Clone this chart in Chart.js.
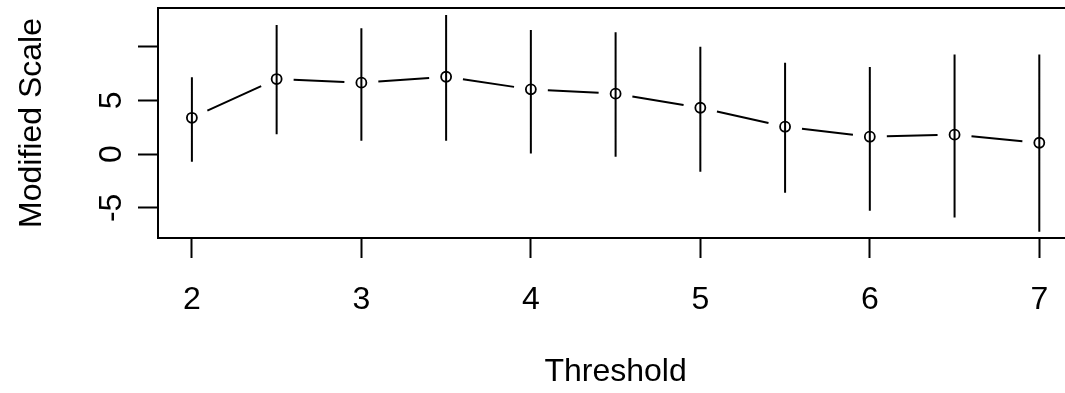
<!DOCTYPE html>
<html>
<head>
<meta charset="utf-8">
<script src="https://cdn.jsdelivr.net/npm/chart.js@4.4.1/dist/chart.umd.min.js"></script>
<style>
    body { margin: 0; background: #fff; overflow: hidden; }
    #wrap { width: 1065px; height: 393px; overflow: hidden; }
</style>
</head>
<body>
<div id="wrap"><canvas id="chart01" width="1080" height="393"></canvas></div>
<script>
// valores
const thresholds = [2, 2.5, 3, 3.5, 4, 4.5, 5, 5.5, 6, 6.5, 7];
const scaleMeans = [3.37, 6.97, 6.63, 7.18, 6.01, 5.61, 4.30, 2.54, 1.61, 1.80, 1.05];
const upperLimits = [7.13, 11.99, 11.68, 12.92, 11.52, 11.31, 9.97, 8.49, 8.09, 9.26, 9.26];
const lowerLimits = [-0.71, 1.83, 1.24, 1.24, 0.06, -0.25, -1.64, -3.59, -5.27, -5.89, -7.22];
const xTicks = [2, 3, 4, 5, 6, 7];
const yTicks = [-5, 0, 5, 10];
const yTickLabels = ['-5', '0', '5', ''];

const fontFamily = '"Liberation Sans", Arial, sans-serif';
const bigFont = { family: fontFamily, size: 32 };
const ctx01 = document.getElementById('chart01');

// linhas tipo "b" do R (com espaco em volta dos pontos) + barras de erro
const errorBars = {
    id: 'errorBars',
    afterDatasetsDraw(chart) {
        const ctx = chart.ctx;
        const x = chart.scales.x;
        const y = chart.scales.y;
        const gap = 17;
        ctx.save();
        ctx.strokeStyle = '#000';
        ctx.lineWidth = 2;
        ctx.beginPath();
        for (let i = 0; i < thresholds.length; i++) {
            const px = x.getPixelForValue(thresholds[i]);
            ctx.moveTo(px, y.getPixelForValue(upperLimits[i]));
            ctx.lineTo(px, y.getPixelForValue(lowerLimits[i]));
        }
        for (let i = 0; i < thresholds.length - 1; i++) {
            const x1 = x.getPixelForValue(thresholds[i]);
            const y1 = y.getPixelForValue(scaleMeans[i]);
            const x2 = x.getPixelForValue(thresholds[i + 1]);
            const y2 = y.getPixelForValue(scaleMeans[i + 1]);
            const len = Math.hypot(x2 - x1, y2 - y1);
            const dx = (x2 - x1) / len;
            const dy = (y2 - y1) / len;
            ctx.moveTo(x1 + dx * gap, y1 + dy * gap);
            ctx.lineTo(x2 - dx * gap, y2 - dy * gap);
        }
        ctx.stroke();

        // rotulos do eixo y girados, como no R
        ctx.fillStyle = '#000';
        ctx.font = `32px ${fontFamily}`;
        ctx.textAlign = 'center';
        ctx.textBaseline = 'alphabetic';
        yTicks.forEach((v, i) => {
            ctx.save();
            ctx.translate(chart.chartArea.left - 37, y.getPixelForValue(v));
            ctx.rotate(-Math.PI / 2);
            ctx.fillText(yTickLabels[i], 0, 0);
            ctx.restore();
        });
        ctx.restore();
    }
};

const chart = new Chart(ctx01, {
    type: 'scatter',
    data: {
        datasets: [{
            data: thresholds.map((t, i) => ({ x: t, y: scaleMeans[i] })),
            showLine: false,
            pointStyle: 'circle',
            pointRadius: 5,
            pointBorderWidth: 1.8,
            pointBorderColor: '#000',
            pointBackgroundColor: 'rgba(0,0,0,0)'
        }]
    },
    options: {
        responsive: false,
        animation: false,
        events: [],
        layout: { padding: 0 },
        plugins: {
            legend: { display: false },
            tooltip: { enabled: false }
        },
        scales: {
            x: {
                type: 'linear',
                position: 'bottom',
                min: 1.8,
                max: 7.2,
                afterBuildTicks: s => { s.ticks = xTicks.map(v => ({ value: v })); },
                afterFit: s => { s.height = 155; },
                grid: { drawOnChartArea: false, tickLength: 20, tickWidth: 2, tickColor: '#000' },
                border: { display: true, color: '#000', width: 2 },
                ticks: { font: bigFont, color: '#000', padding: 23, maxRotation: 0 },
                title: { display: true, text: 'Threshold', font: bigFont, color: '#000', padding: { top: 0, bottom: 2 } }
            },
            xTop: {
                type: 'linear',
                position: 'top',
                min: 1.8,
                max: 7.2,
                afterFit: s => { s.height = 8; },
                grid: { display: false },
                border: { display: true, color: '#000', width: 2 },
                ticks: { display: false }
            },
            y: {
                position: 'left',
                min: -7.8,
                max: 13.57,
                afterBuildTicks: s => { s.ticks = yTicks.map(v => ({ value: v })); },
                afterFit: s => { s.width = 158; },
                grid: { drawOnChartArea: false, tickLength: 20, tickWidth: 2, tickColor: '#000' },
                border: { display: true, color: '#000', width: 2 },
                ticks: { display: false },
                title: { display: true, text: 'Modified Scale', font: bigFont, color: '#000', padding: { top: 13, bottom: 0 } }
            },
            yRight: {
                position: 'right',
                min: -7.8,
                max: 13.57,
                afterFit: s => { s.width = 2; },
                grid: { display: false },
                border: { display: true, color: '#000', width: 2 },
                ticks: { display: false }
            }
        }
    },
    plugins: [errorBars]
});
</script>
</body>
</html>
